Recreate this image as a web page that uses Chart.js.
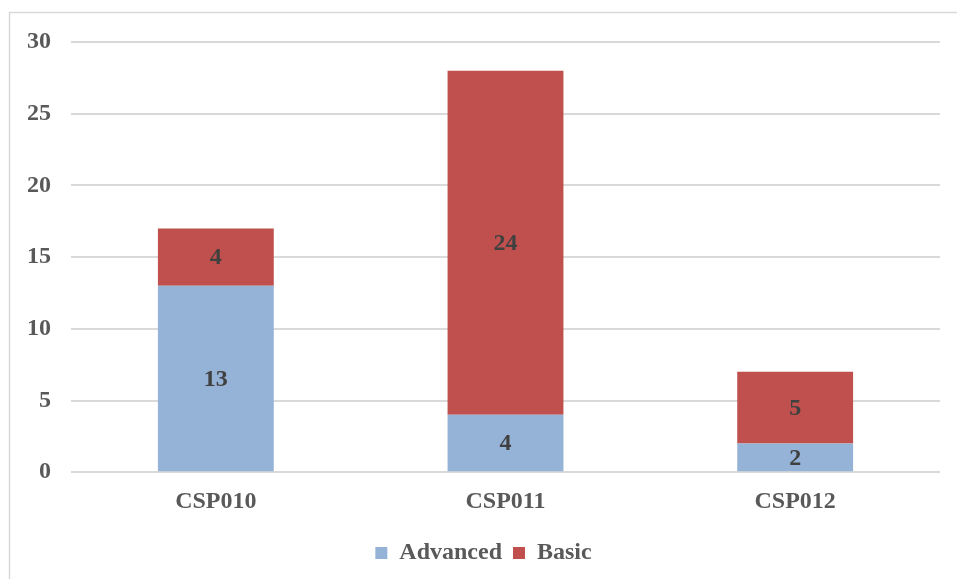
<!DOCTYPE html>
<html>
<head>
<meta charset="utf-8">
<script src="https://cdn.jsdelivr.net/npm/chart.js@4/dist/chart.umd.min.js"></script>
<style>
  html, body { margin: 0; padding: 0; background: #ffffff; }
  #wrap { width: 957px; height: 579px; position: relative; }
</style>
</head>
<body>
<div id="wrap"><canvas id="chart" width="957" height="579"></canvas></div>
<script>
// Course codes and enrolment counts per level
const categories = ['CSP010', 'CSP011', 'CSP012'];
const advanced = [13, 4, 2];
const basic = [4, 24, 5];
const seriesNames = ['Advanced', 'Basic'];

const FONT = "'Liberation Serif', 'Times New Roman', serif";

// Light frame along the top and left edges of the chart panel
const framePlugin = {
  id: 'frame',
  beforeDraw(chart) {
    const ctx = chart.ctx;
    ctx.save();
    ctx.fillStyle = '#ffffff';
    ctx.fillRect(0, 0, chart.width, chart.height);
    ctx.strokeStyle = '#D9D9D9';
    ctx.lineWidth = 1.5;
    ctx.beginPath();
    ctx.moveTo(9.5, chart.height);
    ctx.lineTo(9.5, 12.5);
    ctx.lineTo(chart.width, 12.5);
    ctx.stroke();
    ctx.restore();
  }
};

// Value labels centred inside each bar segment
const valueLabels = {
  id: 'valueLabels',
  afterDatasetsDraw(chart) {
    const ctx = chart.ctx;
    ctx.save();
    ctx.font = 'bold 24px ' + FONT;
    ctx.fillStyle = '#404040';
    ctx.textAlign = 'center';
    ctx.textBaseline = 'middle';
    chart.data.datasets.forEach((ds, i) => {
      const meta = chart.getDatasetMeta(i);
      meta.data.forEach((el, j) => {
        const p = el.getProps(['x', 'y', 'base'], true);
        ctx.fillText(String(ds.data[j]), p.x, (p.y + p.base) / 2 + 1);
      });
    });
    ctx.restore();
  }
};

new Chart(document.getElementById('chart'), {
  type: 'bar',
  data: {
    labels: categories,
    datasets: [
      { label: seriesNames[0], data: advanced, backgroundColor: '#95B3D7' },
      { label: seriesNames[1], data: basic, backgroundColor: '#C0504D' }
    ]
  },
  options: {
    responsive: false,
    animation: false,
    devicePixelRatio: 1,
    layout: { padding: { left: 27, right: 17, top: 42, bottom: 4 } },
    datasets: { bar: { barPercentage: 0.4, categoryPercentage: 1.0 } },
    scales: {
      x: {
        stacked: true,
        grid: { display: false },
        border: { display: false },
        ticks: { color: '#595959', font: { family: FONT, size: 24, weight: 'bold' }, padding: 7 },
        afterFit(scale) { scale.height += 7; }
      },
      y: {
        stacked: true,
        min: 0, max: 30,
        grid: { color: '#D9D9D9', lineWidth: 2, drawTicks: false },
        border: { display: false },
        ticks: { stepSize: 5, color: '#595959', font: { family: FONT, size: 24, weight: 'bold' }, padding: 20 },
        afterFit(scale) { scale.width = 44; }
      }
    },
    plugins: {
      legend: {
        position: 'bottom',
        labels: {
          color: '#595959',
          font: { family: FONT, size: 24, weight: 'bold' },
          boxWidth: 12, boxHeight: 12, padding: 11
        }
      },
      tooltip: { enabled: false }
    }
  },
  plugins: [framePlugin, valueLabels]
});
</script>
</body>
</html>
